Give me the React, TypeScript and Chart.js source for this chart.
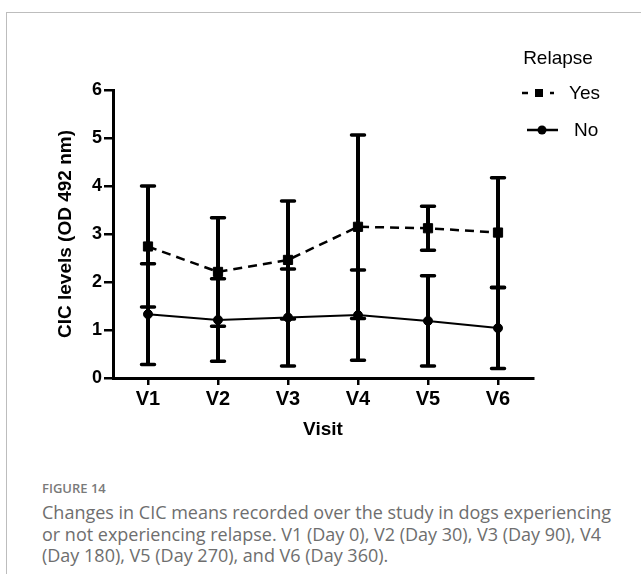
import React, { useEffect, useRef } from "react";
import { Chart, registerables } from "chart.js";

Chart.register(...registerables);

const visits = ["V1", "V2", "V3", "V4", "V5", "V6"];
const yesMean = [2.74, 2.21, 2.46, 3.15, 3.12, 3.03];
const yesSD = [1.26, 1.13, 1.23, 1.91, 0.46, 1.14];
const noMean = [1.33, 1.21, 1.26, 1.31, 1.19, 1.04];
const noSD = [1.05, 0.86, 1.01, 0.94, 0.94, 0.84];
const seriesLabels = ["Yes", "No"];
const legendTitle = "Relapse";
const xTitle = "Visit";
const yTitle = "CIC levels (OD 492 nm)";
const yMin = 0;
const yMax = 6;
const yStep = 1;
const figureLabel = "FIGURE 14";
const captionLines = [
  "Changes in CIC means recorded over the study in dogs experiencing",
  "or not experiencing relapse. V1 (Day 0), V2 (Day 30), V3 (Day 90), V4",
  "(Day 180), V5 (Day 270), and V6 (Day 360).",
];

const sdLists = [yesSD, noSD];
const FONT = "'Liberation Sans', Arial, sans-serif";

const errorBarPlugin = {
  id: "errorBars",
  beforeDatasetsDraw(chart: any) {
    const { ctx, scales } = chart;
    const x = scales.x;
    const y = scales.y;
    chart.data.datasets.forEach((ds: any, di: number) => {
      const sds = sdLists[di];
      ds.data.forEach((v: number, i: number) => {
        const px = x.getPixelForValue(i);
        const top = y.getPixelForValue(v + sds[i]);
        const bot = y.getPixelForValue(Math.max(0, v - sds[i]));
        ctx.save();
        ctx.strokeStyle = "#000";
        ctx.lineWidth = 4;
        ctx.lineCap = "butt";
        ctx.beginPath();
        ctx.moveTo(px, top);
        ctx.lineTo(px, bot);
        ctx.stroke();
        ctx.lineWidth = 3.5;
        ctx.lineCap = "round";
        ctx.beginPath();
        ctx.moveTo(px - 6.5, top);
        ctx.lineTo(px + 6.5, top);
        ctx.moveTo(px - 6.5, bot);
        ctx.lineTo(px + 6.5, bot);
        ctx.stroke();
        ctx.restore();
      });
    });
  },
};

const legendPlugin = {
  id: "customLegend",
  afterDraw(chart: any) {
    const { ctx } = chart;
    const dsets = chart.data.datasets;
    ctx.save();
    ctx.fillStyle = "#000";
    ctx.textBaseline = "middle";
    ctx.font = `19px ${FONT}`;
    ctx.textAlign = "center";
    ctx.fillText(legendTitle, 558, 59);
    ctx.textAlign = "left";
    const yY = 93;
    ctx.strokeStyle = "#000";
    ctx.lineWidth = 2.5;
    ctx.beginPath();
    ctx.moveTo(522, yY);
    ctx.lineTo(528, yY);
    ctx.moveTo(550, yY);
    ctx.lineTo(554, yY);
    ctx.stroke();
    ctx.fillRect(535, yY - 4, 8, 8);
    ctx.fillText(dsets[0].label, 569, yY + 1);
    const nY = 130;
    ctx.beginPath();
    ctx.moveTo(527, nY);
    ctx.lineTo(558, nY);
    ctx.stroke();
    ctx.beginPath();
    ctx.arc(542, nY, 4.5, 0, Math.PI * 2);
    ctx.fill();
    ctx.fillText(dsets[1].label, 574, nY + 1);
    ctx.restore();
  },
};

export default function App() {
  const canvasRef = useRef<HTMLCanvasElement | null>(null);

  useEffect(() => {
    const canvas = canvasRef.current;
    if (!canvas) return;
    const chart = new Chart(canvas, {
      type: "line",
      data: {
        labels: visits,
        datasets: [
          {
            label: seriesLabels[0],
            data: yesMean,
            borderColor: "#000",
            backgroundColor: "#000",
            borderWidth: 2.5,
            borderDash: [9, 6],
            pointStyle: "rect",
            pointRadius: 6.5,
            pointBorderWidth: 1,
            tension: 0,
          },
          {
            label: seriesLabels[1],
            data: noMean,
            borderColor: "#000",
            backgroundColor: "#000",
            borderWidth: 2,
            pointStyle: "circle",
            pointRadius: 4.5,
            pointBorderWidth: 1,
            tension: 0,
          },
        ],
      },
      options: {
        responsive: false,
        animation: false,
        devicePixelRatio: 1,
        layout: { padding: { top: 90, right: 108, bottom: 0, left: 0 } },
        plugins: {
          legend: { display: false },
          tooltip: { enabled: false },
        },
        scales: {
          x: {
            type: "category",
            offset: true,
            grid: {
              drawOnChartArea: false,
              drawTicks: true,
              tickLength: 7,
              lineWidth: 2.5,
              color: "#000",
            },
            border: { display: true, color: "#000", width: 3 },
            ticks: {
              color: "#000",
              padding: 2,
              font: { family: FONT, size: 20, weight: "bold" },
            },
            title: {
              display: true,
              text: xTitle,
              color: "#000",
              font: { family: FONT, size: 19, weight: "bold" },
              padding: { top: 0, bottom: 8.6 },
            },
            afterFit: (s: any) => {
              s.height = 72;
            },
          },
          y: {
            type: "linear",
            min: yMin,
            max: yMax,
            grid: {
              drawOnChartArea: false,
              drawTicks: true,
              tickLength: 9,
              lineWidth: 2.5,
              color: "#000",
            },
            border: { display: true, color: "#000", width: 3 },
            ticks: {
              stepSize: yStep,
              color: "#000",
              padding: 2,
              font: { family: FONT, size: 18, weight: "bold" },
            },
            title: {
              display: true,
              text: yTitle,
              color: "#000",
              font: { family: FONT, size: 19, weight: "bold" },
              padding: { top: 54.6, bottom: 0 },
            },
            afterFit: (s: any) => {
              s.width = 113;
            },
          },
        },
      },
      plugins: [errorBarPlugin, legendPlugin],
    });
    return () => chart.destroy();
  }, []);

  return (
    <div
      style={{
        position: "absolute",
        left: 0,
        top: 0,
        width: 641,
        height: 574,
        background: "#fff",
        overflow: "hidden",
      }}
    >
      <div
        style={{
          position: "absolute",
          left: 6,
          top: 12,
          width: 700,
          height: 600,
          borderLeft: "1.5px solid #bdbdbd",
          borderTop: "1.5px solid #bdbdbd",
        }}
      />
      <canvas
        ref={canvasRef}
        width={641}
        height={450}
        style={{ position: "absolute", left: 0, top: 0, width: 641, height: 450 }}
      />
      <div
        style={{
          position: "absolute",
          left: 42,
          top: 479,
          fontFamily: "'Open Sans', sans-serif",
          color: "#6e6e6e",
        }}
      >
        <div style={{ fontSize: 13, fontWeight: 600, lineHeight: "18px", color: "#7a7a7a" }}>
          {figureLabel}
        </div>
        <div style={{ fontSize: 18, lineHeight: "21.5px", marginTop: 5 }}>
          {captionLines.map((l, i) => (
            <div key={i} style={{ whiteSpace: "nowrap" }}>
              {l}
            </div>
          ))}
        </div>
      </div>
    </div>
  );
}
